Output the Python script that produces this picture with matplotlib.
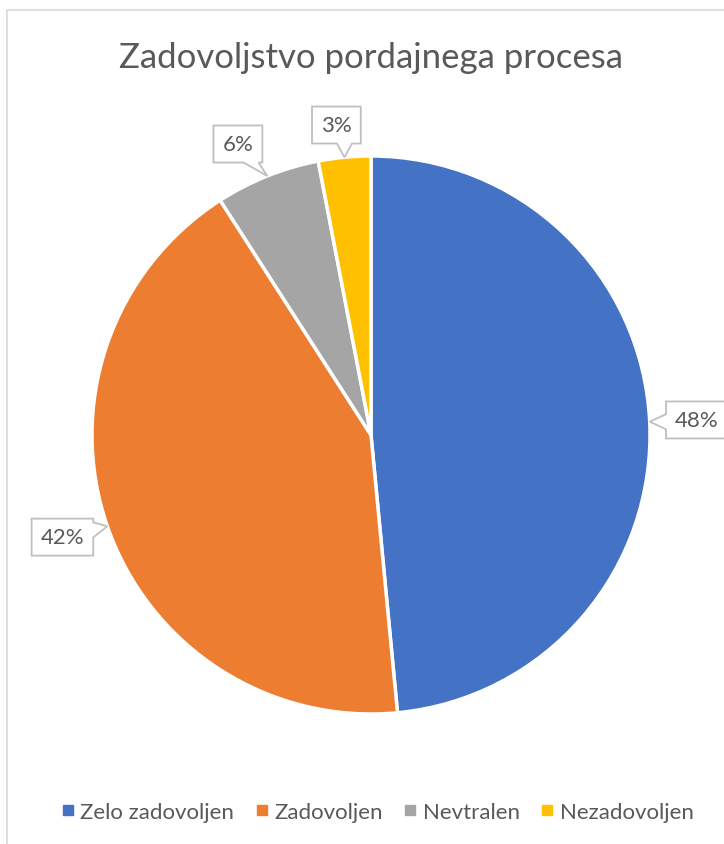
import matplotlib
matplotlib.use("Agg")
import numpy as np
import matplotlib.pyplot as plt
from matplotlib.path import Path
from matplotlib.patches import PathPatch, Rectangle
from matplotlib.lines import Line2D

# data
categories = ["Zelo zadovoljen", "Zadovoljen", "Nevtralen", "Nezadovoljen"]
counts = [16, 14, 2, 1]
colors = ["#4472C4", "#ED7D31", "#A5A5A5", "#FFC000"]
title = "Zadovoljstvo pordajnega procesa"

# callout box centres in pie units (radius = 1)
label_pos = [(1.168, 0.054), (-1.106, -0.366), (-0.477, 1.043), (-0.124, 1.111)]

text_color = "#595959"
plt.rcParams["font.family"] = ["Lato", "DejaVu Sans"]

W, H = 724, 845
fig = plt.figure(figsize=(W / 100, H / 100), dpi=100)

# chart frame (cut off at right/bottom like the screenshot)
fig.add_artist(Rectangle((7 / W, -0.05), 1.0, 1.05 - 11 / H, transform=fig.transFigure,
                         fill=False, edgecolor="#D9D9D9", linewidth=1.2))

fig.text(371 / W, 1 - 68 / H, title, ha="center", va="baseline", fontsize=25, color=text_color)

ax = fig.add_axes([92 / W, 130 / H, 558 / W, 558 / H])
wedges, _ = ax.pie(counts, colors=colors, startangle=90, counterclock=False, radius=1,
                   wedgeprops=dict(edgecolor="white", linewidth=2.5))
ax.set_xlim(-1, 1)
ax.set_ylim(-1, 1)
ax.axis("off")

total = sum(counts)
px = ax.transData.transform((1, 0))[0] - ax.transData.transform((0, 0))[0]  # pixels per unit


def callout(ax, cx, cy, hw, hh, tip, base=0.027):
    x0, x1, y0, y1 = cx - hw, cx + hw, cy - hh, cy + hh
    dx, dy = (tip[0] - cx) / hw, (tip[1] - cy) / hh
    if abs(dx) > abs(dy):
        side = "right" if dx > 0 else "left"
    else:
        side = "top" if dy > 0 else "bottom"

    def notch(a, lo, hi):
        a = min(max(a, lo + base * 1.5), hi - base * 1.5)
        return a - base, a + base

    verts = [(x0, y0)]
    if side == "bottom":
        b1, b2 = notch(tip[0], x0, x1)
        verts += [(b1, y0), tip, (b2, y0)]
    verts.append((x1, y0))
    if side == "right":
        b1, b2 = notch(tip[1], y0, y1)
        verts += [(x1, b1), tip, (x1, b2)]
    verts.append((x1, y1))
    if side == "top":
        b1, b2 = notch(tip[0], x0, x1)
        verts += [(b2, y1), tip, (b1, y1)]
    verts.append((x0, y1))
    if side == "left":
        b1, b2 = notch(tip[1], y0, y1)
        verts += [(x0, b2), tip, (x0, b1)]
    verts.append((x0, y0))
    codes = [Path.MOVETO] + [Path.LINETO] * (len(verts) - 2) + [Path.CLOSEPOLY]
    ax.add_patch(PathPatch(Path(verts, codes), facecolor="white", edgecolor="#BFBFBF",
                           linewidth=1.3, zorder=4, clip_on=False))


renderer = fig.canvas.get_renderer()
for w, c, (cx, cy) in zip(wedges, counts, label_pos):
    mid = np.deg2rad((w.theta1 + w.theta2) / 2)
    tip = (np.cos(mid), np.sin(mid))
    t = ax.text(cx, cy, f"{round(100 * c / total)}%", ha="center", va="center",
                fontsize=16, color=text_color, zorder=5, clip_on=False)
    tw = t.get_window_extent(renderer).width
    callout(ax, cx, cy, (tw / 2 + 9) / px, 18.5 / px, tip)

handles = [Line2D([], [], marker="s", linestyle="none", markersize=6.5, color=c) for c in colors]
fig.legend(handles, categories, loc="center", bbox_to_anchor=(378 / W, 32 / H), ncol=4,
           frameon=False, fontsize=16, handletextpad=0.3, columnspacing=1.0,
           handlelength=0.5, labelcolor=text_color)

fig.savefig("out.png", dpi=100)
